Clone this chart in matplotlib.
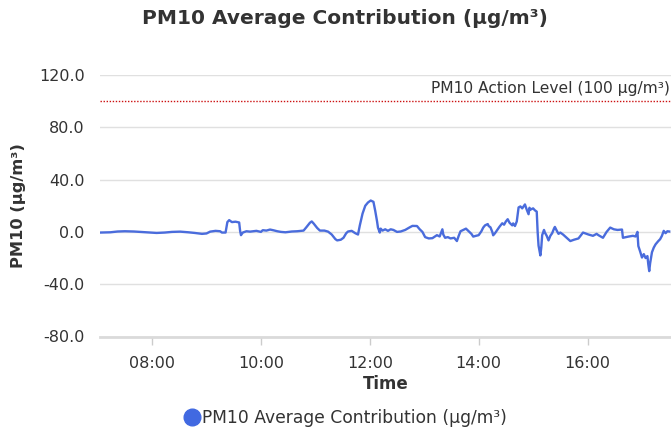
import matplotlib
matplotlib.use("Agg")
import matplotlib.pyplot as plt
import matplotlib.dates as mdates
from matplotlib.lines import Line2D
import pandas as pd

plt.rcParams["font.family"] = ["DejaVu Sans"]

# ---- data -------------------------------------------------------------
times = [
    "07:03", "07:14", "07:22", "07:30", "07:40", "07:47", "07:55", "08:05", "08:14", "08:22",
    "08:31", "08:40", "08:47", "08:55", "09:00", "09:04", "09:10", "09:15", "09:17", "09:21",
    "09:23", "09:25", "09:28", "09:32", "09:36", "09:37", "09:38", "09:40", "09:44", "09:48",
    "09:55", "10:00", "10:02", "10:06", "10:10", "10:14", "10:18", "10:22", "10:27", "10:34",
    "10:40", "10:47", "10:50", "10:54", "10:56", "10:58", "11:02", "11:05", "11:10", "11:14",
    "11:18", "11:22", "11:24", "11:28", "11:31", "11:34", "11:36", "11:40", "11:44", "11:47",
    "11:49", "11:52", "11:55", "11:58", "12:01", "12:04", "12:06", "12:08", "12:09", "12:11",
    "12:12", "12:14", "12:17", "12:20", "12:23", "12:26", "12:30", "12:34", "12:39", "12:44",
    "12:47", "12:52", "12:55", "12:58", "13:01", "13:05", "13:09", "13:14", "13:17", "13:20",
    "13:21", "13:23", "13:26", "13:29", "13:33", "13:36", "13:38", "13:40", "13:43", "13:46",
    "13:49", "13:52", "13:54", "13:57", "14:00", "14:03", "14:05", "14:07", "14:10", "14:11",
    "14:13", "14:15", "14:16", "14:18", "14:21", "14:23", "14:26", "14:28", "14:30", "14:32",
    "14:34", "14:37", "14:38", "14:40", "14:42", "14:44", "14:46", "14:48", "14:51", "14:53",
    "14:55", "14:56", "14:57", "15:00", "15:02", "15:04", "15:05", "15:06", "15:08", "15:09",
    "15:10", "15:12", "15:13", "15:15", "15:17", "15:19", "15:21", "15:23", "15:24", "15:26",
    "15:28", "15:30", "15:33", "15:37", "15:41", "15:45", "15:50", "15:55", "16:01", "16:06",
    "16:10", "16:12", "16:17", "16:21", "16:25", "16:29", "16:33", "16:38", "16:39", "16:45",
    "16:50", "16:53", "16:55", "16:56", "16:58", "17:00", "17:02", "17:04", "17:06", "17:07",
    "17:08", "17:09", "17:11", "17:13", "17:15", "17:18", "17:20", "17:22", "17:24", "17:26",
    "17:28", "17:30",
]
pm10 = [
    -0.5, -0.3, 0.3, 0.5, 0.3, 0.0, -0.3, -0.8, -0.5, 0.0,
    0.2, -0.3, -0.8, -1.5, -1.2, 0.2, 0.8, 0.5, -0.5, -0.5,
    7.5, 9.0, 7.5, 7.8, 7.2, 1.0, -2.5, -0.5, 0.5, 0.2,
    0.8, 0.0, 1.3, 1.0, 1.8, 1.2, 0.5, 0.0, -0.3, 0.3,
    0.5, 1.0, 3.5, 7.0, 8.0, 6.5, 3.0, 1.0, 1.0, 0.2,
    -2.0, -5.5, -6.5, -6.0, -4.5, -1.0, 0.3, 0.8, -1.0, -2.0,
    5.0, 14.0, 20.0, 22.5, 24.0, 23.0, 16.0, 8.0, 3.3, -0.5,
    2.5, 1.0, 2.0, 0.8, 2.0, 1.5, 0.0, 0.3, 1.5, 3.5,
    4.6, 4.5, 2.0, 0.0, -4.0, -5.0, -4.8, -2.5, -3.5, 2.0,
    -2.0, -4.5, -4.0, -5.0, -4.5, -7.0, -3.0, 0.5, 1.5, 2.5,
    0.5, -1.5, -3.6, -3.0, -2.5, 0.5, 3.3, 5.0, 6.0, 4.5,
    3.5, 0.0, -2.6, -1.0, 2.0, 4.0, 6.6, 5.5, 8.0, 9.7,
    7.0, 5.0, 6.5, 4.5, 8.0, 18.7, 19.5, 18.0, 21.0, 17.0,
    13.5, 18.5, 17.0, 18.0, 16.5, 15.5, 0.0, -10.5, -18.0, -12.0,
    -2.5, 1.5, -0.5, -3.0, -6.5, -3.0, -1.0, 2.5, 3.8, 1.0,
    -1.5, -0.5, -2.0, -4.5, -7.0, -6.0, -5.0, -0.5, -2.0, -3.0,
    -1.5, -2.5, -4.5, 0.0, 3.3, 2.0, 1.5, 1.8, -4.5, -3.6,
    -3.0, -3.5, 0.0, -10.8, -15.0, -19.6, -17.0, -20.0, -18.5, -25.0,
    -30.0, -24.0, -15.6, -12.0, -9.5, -7.0, -5.6, -3.0, 0.8, -1.0,
    0.5, 0.3,
]
action_level = 100
action_label = "PM10 Action Level (100 µg/m³)"
series_label = "PM10 Average Contribution (µg/m³)"
y_ticks = [-80, -40, 0, 40, 80, 120]
x_ticks = ["08:00", "10:00", "12:00", "14:00", "16:00"]
x_range = ["07:02:36", "17:32:00"]

day = "2024-01-01 "
t = pd.to_datetime([day + s for s in times])

# ---- figure -----------------------------------------------------------
W, H = 671, 430
fig = plt.figure(figsize=(W / 100, H / 100), dpi=100)
ax = fig.add_axes([100 / W, 1 - 336.5 / H, (W - 100) / W, (336.5 - 75) / H])

text_col = "#333333"
grid_col = "#e0e0e0"
blue = "#4a6cdc"

ax.plot(t, pm10, color=blue, lw=1.7, solid_joinstyle="round", zorder=3)
ax.axhline(action_level, color="#cc1111", lw=1.0, ls=(0, (1, 1.2)), zorder=2)
ax.annotate(action_label, xy=(1.0, action_level), xycoords=("axes fraction", "data"),
            xytext=(-0.5, 4), textcoords="offset points", ha="right", va="bottom",
            fontsize=11.2, color=text_col)

ax.set_ylim(-80, 120)
ax.set_yticks(y_ticks)
ax.set_yticklabels([f"{v:.1f}" for v in y_ticks])
ax.set_xlim(pd.to_datetime(day + x_range[0]), pd.to_datetime(day + x_range[1]))
ax.set_xticks(pd.to_datetime([day + s for s in x_ticks]))
ax.xaxis.set_major_formatter(mdates.DateFormatter("%H:%M"))

ax.grid(axis="y", color=grid_col, lw=1.0, zorder=0)
ax.set_axisbelow(True)
for side in ("top", "right", "left"):
    ax.spines[side].set_visible(False)
ax.spines["bottom"].set_color("#dadada")
ax.spines["bottom"].set_linewidth(2.0)

ax.tick_params(axis="y", length=0, pad=11, labelsize=11.5, labelcolor=text_col)
ax.tick_params(axis="x", length=6, width=1, color="#cccccc", pad=8,
               labelsize=11.5, labelcolor=text_col)

ax.set_xlabel("Time", fontsize=12, fontweight="bold", color=text_col, labelpad=3)
ax.set_ylabel("PM10 (µg/m³)", fontsize=11.7, fontweight="bold", color=text_col, labelpad=9)

fig.text(345 / W, 1 - 18 / H, series_label, ha="center", va="center",
         fontsize=14.5, fontweight="bold", color=text_col)

handle = Line2D([], [], marker="o", ls="none", color="royalblue", markersize=12)
fig.legend([handle], [series_label], loc="center", bbox_to_anchor=(345 / W, 1 - 418 / H),
           frameon=False, fontsize=12.3, handletextpad=0.1, labelcolor=text_col,
           handlelength=1.0, borderpad=0)

fig.savefig("out.png", dpi=100)
